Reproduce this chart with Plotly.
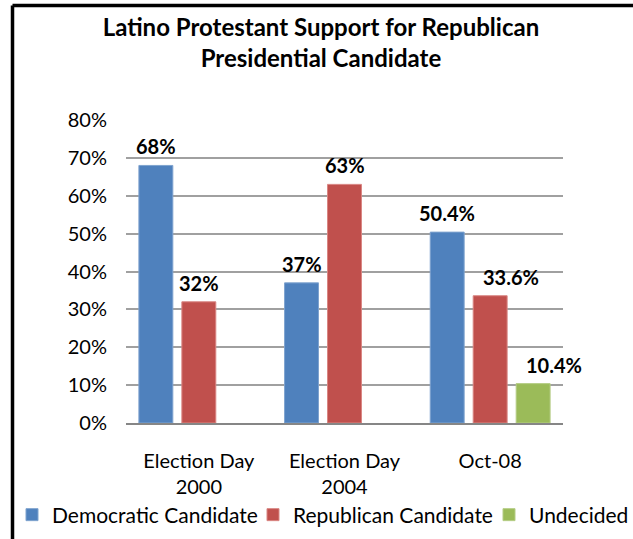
import plotly.graph_objects as go

# Survey periods and candidate support (percent of Latino Protestants)
periods = ["Election Day<br>2000", "Election Day<br>2004", "Oct-08"]
democratic = [68, 37, 50.4]
republican = [32, 63, 33.6]
undecided = [None, None, 10.4]
value_labels_dem = ["68%", "37%", "50.4%"]
value_labels_rep = ["32%", "63%", "33.6%"]
value_labels_und = ["", "", "10.4%"]

y_ticks = [0, 10, 20, 30, 40, 50, 60, 70, 80]
y_tick_labels = ["0%", "10%", "20%", "30%", "40%", "50%", "60%", "70%", "80%"]

W, H = 633, 539
L, R, T, B = 126, 70, 120, 116
FONT = "Lato, 'Open Sans', sans-serif"

series = [
    ("Democratic Candidate", democratic, value_labels_dem, "#4F81BD", "#7FA3CF"),
    ("Republican Candidate", republican, value_labels_rep, "#C0504D", "#D98683"),
    ("Undecided", undecided, value_labels_und, "#9BBB59", "#B5CD86"),
]
# one single-entry legend per series so the row spans the full width
legend_ids = ["legend", "legend2", "legend3"]
legend_left_px = [12, 253, 489]

fig = go.Figure()
for (name, vals, _, color, edge), lid in zip(series, legend_ids):
    fig.add_trace(go.Bar(
        name=name, x=periods, y=vals, legend=lid,
        marker=dict(color=color, line=dict(color=edge, width=1)),
    ))

# Bold value labels above the bars; a couple are nudged right
label_xshift = {("Republican Candidate", 2): 21, ("Undecided", 2): 21}
n_series = len(series)
for si, (name, vals, labels, _, _) in enumerate(series):
    for ci, (v, lab) in enumerate(zip(vals, labels)):
        if v is None or not lab:
            continue
        fig.add_annotation(
            x=ci + (si - (n_series - 1) / 2) * 0.295, y=v, xref="x", yref="y",
            text=lab, showarrow=False, yanchor="middle",
            yshift=19, xshift=label_xshift.get((name, ci), 0),
            font=dict(family=FONT, size=20, color="#000000", weight="bold"),
        )


def px_x(p):
    return (p - L) / (W - L - R)


def px_y(p):
    return (H - B - p) / (H - T - B)


# Black frame along the top and left edge of the chart area
fig.add_shape(type="line", xref="paper", yref="paper",
              x0=px_x(12.5), x1=px_x(W + 10), y0=px_y(5.5), y1=px_y(5.5),
              line=dict(color="#000000", width=3.5))
fig.add_shape(type="line", xref="paper", yref="paper",
              x0=px_x(12.5), x1=px_x(12.5), y0=px_y(5.5), y1=px_y(H + 10),
              line=dict(color="#000000", width=3.5))

legend_style = dict(
    orientation="h", xref="container", yref="container",
    xanchor="left", y=1 - 515 / H, yanchor="middle",
    font=dict(family=FONT, size=21), itemwidth=30, bgcolor="rgba(0,0,0,0)",
)

fig.update_layout(
    width=W, height=H,
    margin=dict(l=L, r=R, t=T, b=B, pad=0, autoexpand=False),
    paper_bgcolor="#FFFFFF", plot_bgcolor="#FFFFFF",
    barmode="group", bargap=0.115, bargroupgap=0.21,
    font=dict(family=FONT, size=20, color="#000000"),
    title=dict(
        text="Latino Protestant Support for Republican<br>Presidential Candidate",
        x=0.507, xanchor="center", xref="container",
        y=1 - 36 / H, yanchor="middle", yref="container",
        font=dict(family=FONT, size=24, color="#000000", weight="bold"),
    ),
    xaxis=dict(
        type="category", range=[-0.5, len(periods) - 0.5],
        showgrid=False, ticks="", showline=True,
        linecolor="#868686", linewidth=2,
        tickfont=dict(family=FONT, size=20), ticklabelstandoff=19,
    ),
    yaxis=dict(
        range=[0, 80], tickvals=y_ticks, ticktext=y_tick_labels,
        showgrid=True, gridcolor="#A0A0A0", gridwidth=1.5,
        zeroline=False, showline=False, ticks="",
        tickfont=dict(family=FONT, size=20), ticklabelstandoff=18,
    ),
    legend=dict(legend_style, x=legend_left_px[0] / W),
    legend2=dict(legend_style, x=legend_left_px[1] / W),
    legend3=dict(legend_style, x=legend_left_px[2] / W),
    showlegend=True,
)

fig.write_html("out.html")
